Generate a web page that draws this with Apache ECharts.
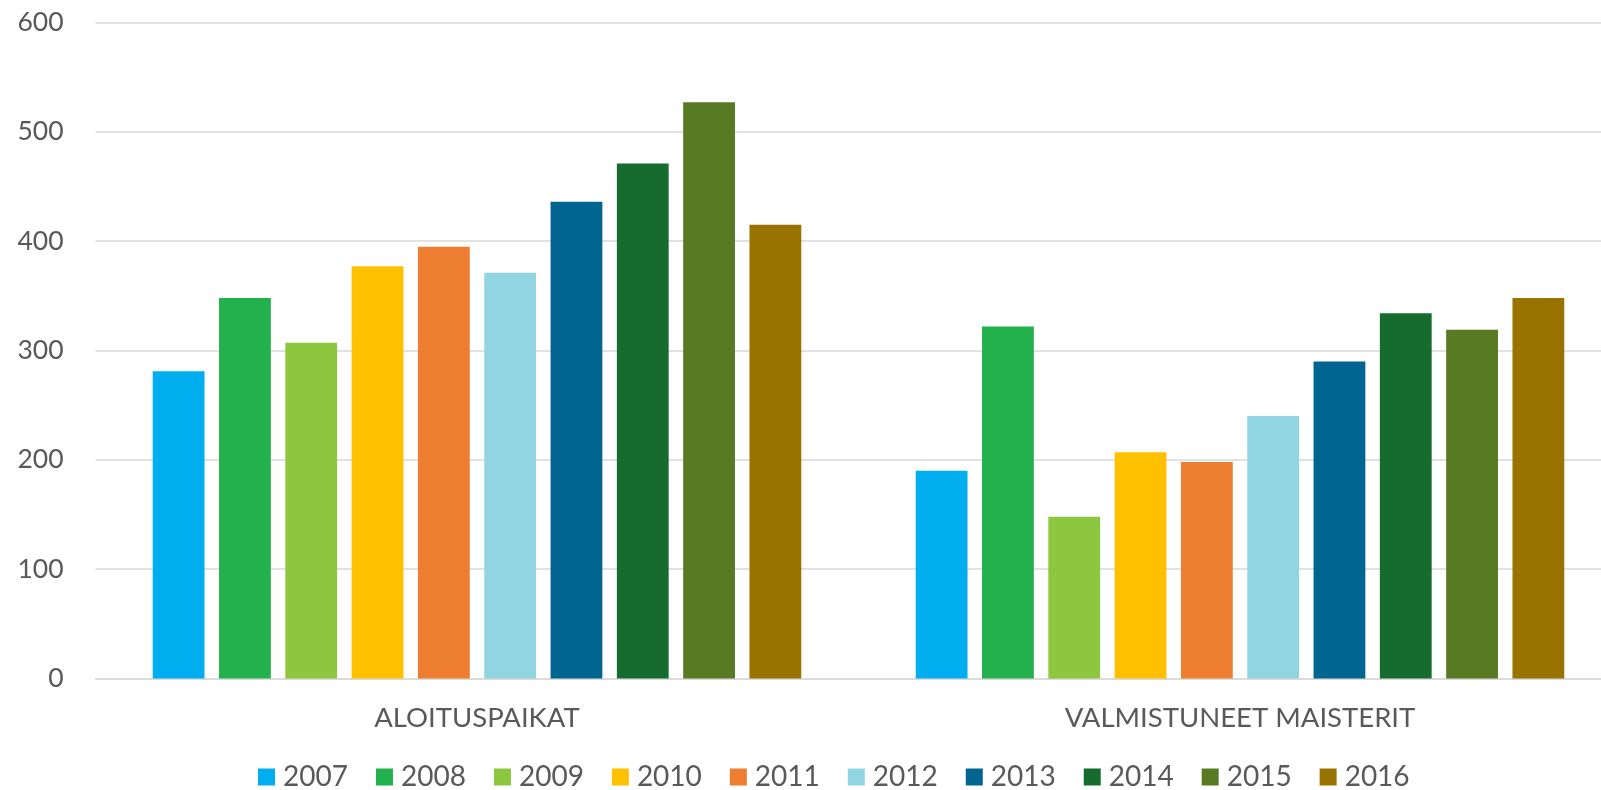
<!doctype html>
<html lang="fi">
<head>
    <meta charset="utf-8">
    <title>Aloituspaikat ja valmistuneet maisterit</title>
    <script src="https://cdn.jsdelivr.net/npm/echarts@6/dist/echarts.min.js"></script>
    <style>
        html, body { margin: 0; padding: 0; background: #fff; overflow: hidden; }
        /* kaavio on hieman ikkunaa leveämpi, oikea reuna rajautuu pois kuten alkuperäisessä */
        #main { width: 1622px; height: 790px; }
    </style>
</head>
<body>
    <div id="main"></div>
    <script>
        // kategoriat ja vuodet
        var categories = ['ALOITUSPAIKAT', 'VALMISTUNEET MAISTERIT'];
        var years = ['2007', '2008', '2009', '2010', '2011', '2012', '2013', '2014', '2015', '2016'];
        // arvot luettu kuvasta
        var aloituspaikat = [281, 348, 307, 377, 395, 371, 436, 471, 527, 415];
        var maisterit = [190, 322, 148, 207, 198, 240, 290, 334, 319, 348];
        var yTicks = [0, 100, 200, 300, 400, 500, 600];
        var colors = ['#00aeef', '#22b14c', '#8dc63f', '#ffc000', '#ed7d31',
                      '#92d5e2', '#00668f', '#166b2f', '#577a23', '#987300'];

        var series = [];
        for (var i = 0; i < years.length; i++) {
            series.push({
                name: years[i],
                type: 'bar',
                data: [aloituspaikat[i], maisterit[i]],
                itemStyle: { color: colors[i] },
                barGap: '28%',
                barCategoryGap: '15%'
            });
        }

        var myChart = echarts.init(document.getElementById('main'));
        var option = {
            color: colors,
            animation: false,
            textStyle: { fontFamily: 'Lato' },
            grid: { left: 95.5, top: 22.5, width: 1526, height: 656 },
            legend: {
                data: years,
                left: 253,
                top: 758,
                itemWidth: 17,
                itemHeight: 17,
                itemGap: 28,
                icon: 'rect',
                textStyle: { fontSize: 28, color: '#595959', fontFamily: 'Lato', padding: [0, 0, 0, 3] }
            },
            xAxis: {
                type: 'category',
                data: categories,
                axisTick: { show: false },
                axisLine: { lineStyle: { color: '#d9d9d9', width: 1.5 } },
                axisLabel: { fontSize: 27.5, color: '#595959', margin: 26, fontFamily: 'Lato' }
            },
            yAxis: {
                type: 'value',
                min: yTicks[0],
                max: yTicks[yTicks.length - 1],
                interval: 100,
                axisLine: { show: false },
                axisTick: { show: false },
                axisLabel: { fontSize: 26.5, color: '#595959', margin: 32, fontFamily: 'Lato' },
                splitLine: { lineStyle: { color: '#d9d9d9', width: 1.5 } }
            },
            series: series
        };
        myChart.setOption(option);
    </script>
</body>
</html>
